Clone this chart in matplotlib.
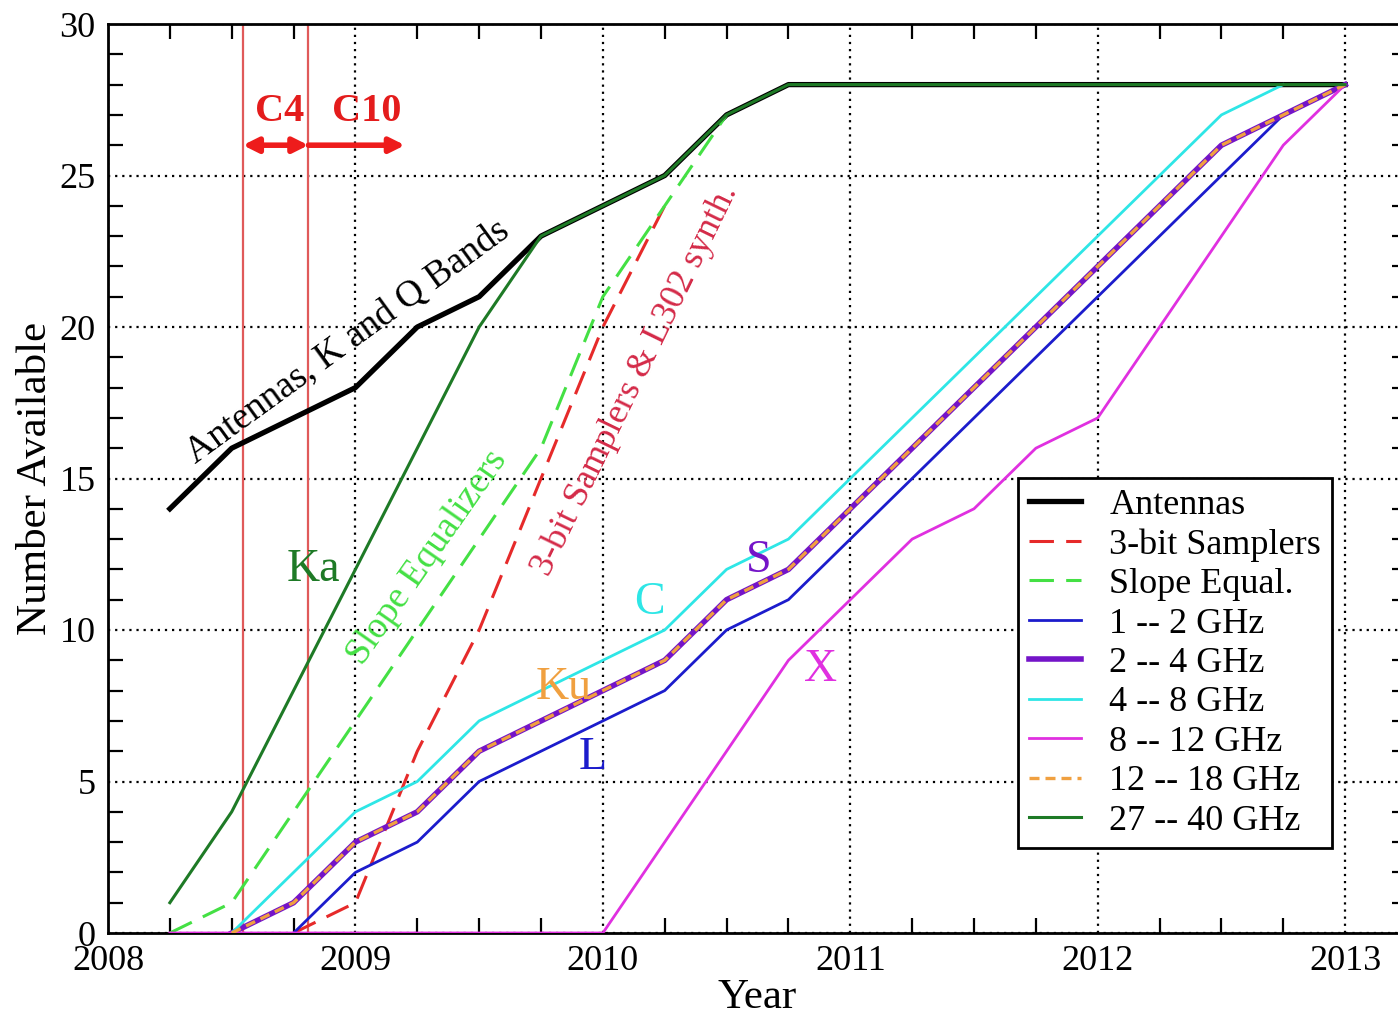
import matplotlib.pyplot as plt
import numpy as np
from matplotlib.ticker import MultipleLocator

plt.rcParams['font.family'] = ['Liberation Serif', 'DejaVu Serif']

nan = np.nan
# quarterly time axis
year = [2008.25, 2008.5, 2008.75, 2009.0, 2009.25, 2009.5, 2009.75, 2010.0,
        2010.25, 2010.5, 2010.75, 2011.0, 2011.25, 2011.5, 2011.75, 2012.0,
        2012.25, 2012.5, 2012.75, 2013.0]

antennas = [14, 16, 17, 18, 20, 21, 23, 24, 25, 27, 28, 28, 28, 28, 28, 28, 28, 28, 28, 28]
samplers = [nan, nan, 0, 1, 6, 10, 15, 20, 24, nan, nan, nan, nan, nan, nan, nan, nan, nan, nan, nan]
slope_eq = [0, 1, 4, 7, 10, 13, 16, 21, 24, 27, nan, nan, nan, nan, nan, nan, nan, nan, nan, nan]
band_L = [nan, nan, 0, 2, 3, 5, 6, 7, 8, 10, 11, 13, 15, 17, 19, 21, 23, 25, 27, 28]
band_S = [nan, 0, 1, 3, 4, 6, 7, 8, 9, 11, 12, 14, 16, 18, 20, 22, 24, 26, 27, 28]
band_C = [nan, 0, 2, 4, 5, 7, 8, 9, 10, 12, 13, 15, 17, 19, 21, 23, 25, 27, 28, nan]
band_X = [0, 0, 0, 0, 0, 0, 0, 0, 3, 6, 9, 11, 13, 14, 16, 17, 20, 23, 26, 28]
band_Ku = [nan, 0, 1, 3, 4, 6, 7, 8, 9, 11, 12, 14, 16, 18, 20, 22, 24, 26, 27, 28]
band_Ka = [1, 4, 8, 12, 16, 20, 23, 24, 25, 27, 28, 28, 28, 28, 28, 28, 28, 28, 28, 28]

# correlator milestones
c4_start = 2008.545
c10_start = 2008.81
c10_arrow_end = 2009.2

fig = plt.figure(figsize=(13.98, 10.16), dpi=100)
ax = fig.add_axes([108/1398, 83/1016, 1299/1398, 909/1016])

ax.plot(year, antennas, color='black', lw=3.8, label='Antennas', zorder=3)
ax.plot(year, samplers, color='#e62a2a', lw=2.2, dashes=(8, 4), label='3-bit Samplers', zorder=3)
ax.plot(year, slope_eq, color='#44e044', lw=2.2, dashes=(8, 4), label='Slope Equal.', zorder=3)
ax.plot(year, band_L, color='#1c1ccc', lw=2, label='1 -- 2 GHz', zorder=3)
ax.plot(year, band_S, color='#7414c8', lw=4, label='2 -- 4 GHz', zorder=3)
ax.plot(year, band_C, color='#2ee6e6', lw=2, label='4 -- 8 GHz', zorder=3)
ax.plot(year, band_X, color='#e030e0', lw=2, label='8 -- 12 GHz', zorder=3)
ax.plot(year, band_Ku, color='#f0a040', lw=2.4, dashes=(3, 1.8), label='12 -- 18 GHz', zorder=4)
ax.plot(year, band_Ka, color='#1e7a26', lw=2.2, label='27 -- 40 GHz', zorder=4)

ax.axvline(c4_start, color='#e05a5a', lw=1.6, zorder=2)
ax.axvline(c10_start, color='#e05a5a', lw=1.6, zorder=2)
ax.annotate('', xy=(c4_start, 26), xytext=(c10_start, 26),
            arrowprops=dict(arrowstyle='<|-|>', color='#ee1c1c', lw=4, mutation_scale=22, shrinkA=0, shrinkB=0))
ax.annotate('', xy=(c10_arrow_end, 26), xytext=(c10_start, 26),
            arrowprops=dict(arrowstyle='-|>', color='#ee1c1c', lw=4, mutation_scale=22, shrinkA=0, shrinkB=0))
ax.text(2008.695, 27.1, 'C4', color='#e41c1c', fontsize=29, fontweight='bold', ha='center', va='center')
ax.text(2009.047, 27.1, 'C10', color='#e41c1c', fontsize=29, fontweight='bold', ha='center', va='center')

ax.text(2008.97, 19.5, 'Antennas, K and Q Bands', rotation=36, fontsize=27, ha='center', va='center')
ax.text(2009.29, 12.4, 'Slope Equalizers', rotation=55, fontsize=27, color='#44e044', ha='center', va='center')
ax.text(2010.13, 18.25, '3-bit Samplers & L302 synth.', rotation=64, fontsize=26, color='#d42a48',
        ha='center', va='center')

lab = dict(fontsize=33, ha='center', va='center')
ax.text(2008.83, 12.0, 'Ka', color='#1e7a26', **lab)
ax.text(2010.19, 10.9, 'C', color='#2ee6e6', **lab)
ax.text(2010.63, 12.3, 'S', color='#7414c8', **lab)
ax.text(2009.84, 8.1, 'Ku', color='#f0a040', **lab)
ax.text(2009.96, 5.8, 'L', color='#1c1ccc', **lab)
ax.text(2010.88, 8.7, 'X', color='#e030e0', **lab)

ax.set_xlim(2008, 2013.25)
ax.set_ylim(0, 30)
ax.set_xticks([2008, 2009, 2010, 2011, 2012, 2013])
ax.set_xticklabels(['2008', '2009', '2010', '2011', '2012', '2013'])
ax.xaxis.set_minor_locator(MultipleLocator(0.25))
ax.yaxis.set_major_locator(MultipleLocator(5))
ax.yaxis.set_minor_locator(MultipleLocator(1))
ax.tick_params(which='both', direction='in', top=True, right=True, width=1.6, labelsize=26)
ax.tick_params(which='major', length=0, pad=9)
ax.tick_params(which='minor', length=11)
for s in ax.spines.values():
    s.set_linewidth(2)
ax.grid(True, which='major', color='black', linestyle=(0, (1, 2.2)), lw=1.6)

ax.set_xlabel('Year', fontsize=31, labelpad=0)
ax.set_ylabel('Number Available', fontsize=31, labelpad=3)

leg = ax.legend(loc='upper left', bbox_to_anchor=(0.7005, 0.5006), borderaxespad=0,
                fontsize=26, fancybox=False, framealpha=1, edgecolor='black',
                handlelength=1.45, handletextpad=0.78, labelspacing=0.17, borderpad=0.3)
leg.get_frame().set_linewidth(2)

fig.savefig('out.png', dpi=100)
